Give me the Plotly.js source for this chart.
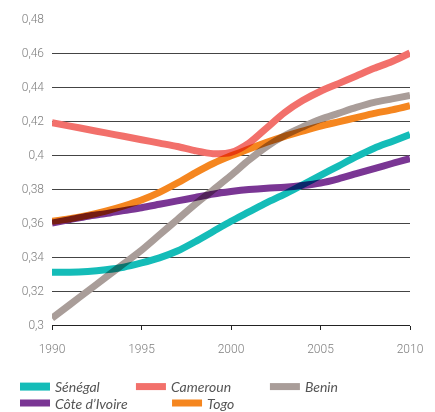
<!DOCTYPE html>
<html>
<head>
<meta charset="utf-8">
<script src="https://cdn.plot.ly/plotly-3.0.1.min.js"></script>
<style>
html,body{margin:0;padding:0;background:#fff;}
#chart{width:435px;height:412px;}
.scatterlayer .trace path.js-line{mix-blend-mode:multiply;}
.legend .legendlines path{stroke-width:8px !important;}
</style>
</head>
<body>
<div id="chart"></div>
<script>
const years = [1990,1991,1992,1993,1994,1995,1996,1997,1998,1999,2000,2001,2002,2003,2004,2005,2006,2007,2008,2009,2010];
const senegal  = [0.331,0.331,0.3315,0.3325,0.334,0.3365,0.3395,0.3435,0.349,0.355,0.361,0.3665,0.372,0.377,0.3825,0.388,0.3935,0.399,0.404,0.408,0.412];
const cameroun = [0.419,0.417,0.415,0.413,0.411,0.409,0.407,0.405,0.4025,0.4008,0.4015,0.407,0.416,0.425,0.432,0.4375,0.442,0.4465,0.451,0.455,0.46];
const benin    = [0.304,0.312,0.32,0.328,0.336,0.344,0.353,0.362,0.371,0.3795,0.388,0.397,0.405,0.4115,0.4165,0.421,0.4245,0.428,0.431,0.433,0.435];
const coteIvoire = [0.36,0.362,0.364,0.3655,0.3673,0.369,0.371,0.373,0.375,0.377,0.3785,0.3797,0.3805,0.381,0.382,0.3835,0.386,0.389,0.392,0.395,0.3978];
const togo     = [0.361,0.3625,0.3645,0.367,0.37,0.3735,0.378,0.3835,0.3895,0.395,0.3995,0.4035,0.4075,0.411,0.414,0.417,0.4195,0.422,0.4245,0.4265,0.429];

const seriesNames = ["Sénégal","Cameroun","Benin","Côte d’Ivoire","Togo"];
const seriesData = [senegal, cameroun, benin, coteIvoire, togo];
const colors = ["#14bcb8","#f2706b","#a99d99","#7a3694","#f5861f"];
const legendIds = ["legend","legend2","legend3","legend4","legend5"];

const yTickVals = [0.3,0.32,0.34,0.36,0.38,0.4,0.42,0.44,0.46,0.48];
const yTickText = ["0,3","0,32","0,34","0,36","0,38","0,4","0,42","0,44","0,46","0,48"];
const xTickVals = [1990,1995,2000,2005,2010];

const traces = seriesData.map((vals,i)=>({
  x: years, y: vals, type:'scatter', mode:'lines', name: seriesNames[i],
  line:{color:colors[i], width:7, shape:'spline', smoothing:0.8},
  legend: legendIds[i], hoverinfo:'skip'
}));

const legendFont = {family:'Lato, "Open Sans", sans-serif', size:14, color:'#555', style:'italic'};
const legPos = [[0.0345,0.0607],[0.301,0.0607],[0.609,0.0607],[0.0345,0.0206],[0.384,0.0206]];
const layout = {
  width:435, height:412,
  margin:{l:52, r:25, t:19, b:87, autoexpand:false},
  paper_bgcolor:'#fff', plot_bgcolor:'#fff',
  showlegend:true,
  xaxis:{range:[1990,2010], tickvals:xTickVals, showgrid:false, zeroline:false,
    showline:true, linecolor:'#222', linewidth:1, ticks:'outside', ticklen:4, tickcolor:'#222', tickwidth:1,
    ticklabelstandoff:9,
    tickfont:{family:'Roboto, "Liberation Sans", sans-serif', size:12, color:'#7f7f7f', weight:300}},
  yaxis:{range:[0.3,0.48], tickvals:yTickVals, ticktext:yTickText, showgrid:true, gridcolor:'#444', gridwidth:1,
    zeroline:false, showline:false, ticks:'', ticklabelstandoff:7,
    tickfont:{family:'Roboto, "Liberation Sans", sans-serif', size:12, color:'#7f7f7f', weight:300}}
};
legendIds.forEach((id,i)=>{
  layout[id] = {x:legPos[i][0], y:legPos[i][1], xref:'container', yref:'container', xanchor:'left', yanchor:'middle', orientation:'h',
    font:legendFont, bgcolor:'rgba(0,0,0,0)', borderwidth:0, itemwidth:30, tracegroupgap:0};
});
Plotly.newPlot('chart', traces, layout, {displayModeBar:false, staticPlot:true});
</script>
</body>
</html>
